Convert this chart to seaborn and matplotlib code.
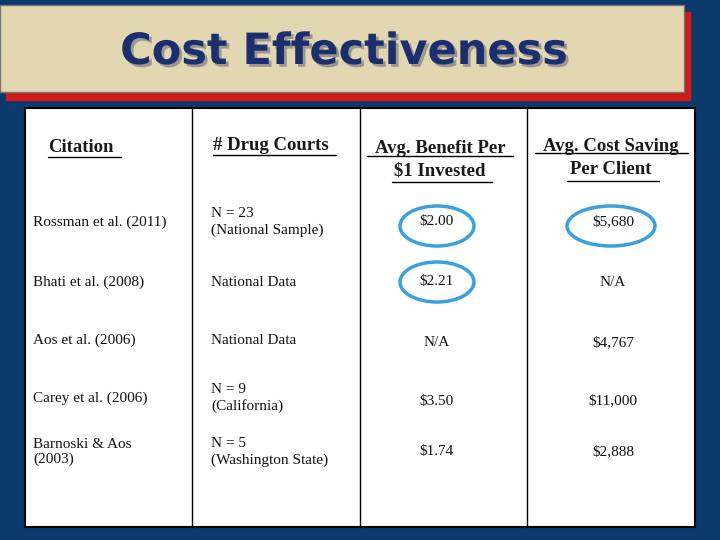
import matplotlib
matplotlib.use("Agg")
import matplotlib.pyplot as plt
import matplotlib.patheffects as pe
import seaborn as sns
from matplotlib.patches import Rectangle, Ellipse

sns.set_style("white")
plt.rcParams['font.family'] = ['Liberation Serif', 'DejaVu Serif']

# table data
headers = ["Citation", "# Drug Courts", "Avg. Benefit Per\n$1 Invested", "Avg. Cost Saving\nPer Client"]
citations = ["Rossman et al. (2011)", "Bhati et al. (2008)", "Aos et al. (2006)",
             "Carey et al. (2006)", "Barnoski & Aos\n(2003)"]
courts = ["N = 23\n(National Sample)", "National Data", "National Data",
          "N = 9\n(California)", "N = 5\n(Washington State)"]
benefit = ["$2.00", "$2.21", "N/A", "$3.50", "$1.74"]
saving = ["$5,680", "N/A", "$4,767", "$11,000", "$2,888"]

fig = plt.figure(figsize=(7.2, 5.4), dpi=100)
fig.patch.set_facecolor("#0b3a6c")
ax = fig.add_axes([0, 0, 1, 1])
ax.set_xlim(0, 720)
ax.set_ylim(540, 0)
ax.axis("off")

# title box with red shadow
ax.add_patch(Rectangle((6, 12), 684, 88, color="#d01a1a"))
ax.add_patch(Rectangle((0, 5), 684, 87, facecolor="#e3d7b2", edgecolor="#777777"))
ax.text(344, 52, "Cost Effectiveness", ha="center", va="center", fontsize=31,
        fontweight="bold", color="#1b2f6e", family=["DejaVu Sans"],
        path_effects=[pe.withSimplePatchShadow(offset=(2, -2), shadow_rgbFace="#888888", alpha=0.8)])

# table
x0, x1 = 25, 695
col_edges = [x0, 192, 360, 527, x1]
ax.add_patch(Rectangle((x0, 108), x1 - x0, 419, facecolor="white", edgecolor="black", lw=1.5))
for x in col_edges[1:-1]:
    ax.plot([x, x], [108, 527], color="black", lw=1)

hx = [48, 213, 440, 611]
hy = [148, 146, 160, 158]
for i, h in enumerate(headers):
    ha = "left" if i < 2 else "center"
    ax.text(hx[i], hy[i], h, ha=ha, va="center", fontsize=13.5, fontweight="bold",
            color="#1a1a1a", linespacing=1.4)
# underlines
ax.plot([48, 121], [157, 157], color="black", lw=1)
ax.plot([213, 336], [155, 155], color="black", lw=1)
ax.plot([367, 513], [156, 156], color="black", lw=1)
ax.plot([392, 492], [182, 182], color="black", lw=1)
ax.plot([535, 688], [153, 153], color="black", lw=1)
ax.plot([567, 659], [181, 181], color="black", lw=1)

ry = [222, 282, 340, 398, 452]
for i in range(len(citations)):
    ax.text(33, ry[i], citations[i], ha="left", va="center", fontsize=11, color="#111111")
    ax.text(211, ry[i], courts[i], ha="left", va="center", fontsize=11, color="#111111",
            linespacing=1.3)
    ax.text(437, ry[i] + (3 if i in (2, 3) else 0), benefit[i], ha="center", va="center",
            fontsize=11, color="#111111")
    ax.text(613, ry[i] + (3 if i in (2, 3) else 0), saving[i], ha="center", va="center",
            fontsize=11, color="#111111")

# blue highlight ellipses
for (cx, cy, w, h) in [(437, 226, 74, 40), (437, 282, 74, 40), (611, 226, 88, 40)]:
    ax.add_patch(Ellipse((cx, cy), w, h, fill=False, edgecolor="#3aa0e0", lw=2.5))

fig.savefig("out.png", dpi=100, facecolor=fig.get_facecolor())
